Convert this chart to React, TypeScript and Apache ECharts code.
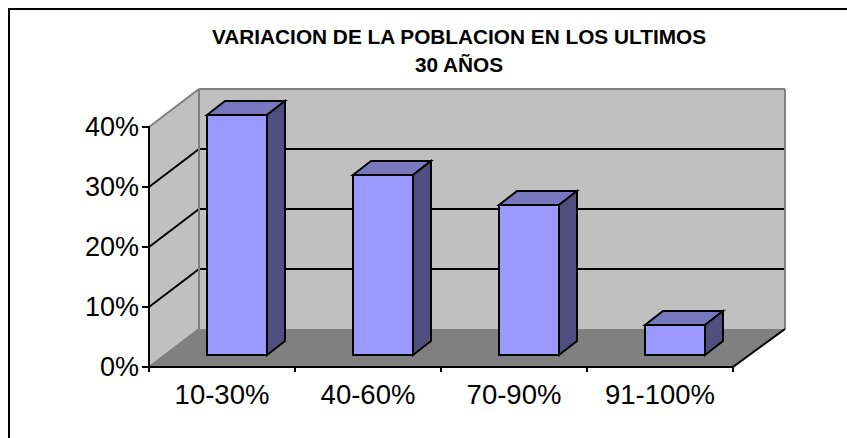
import React, { useEffect, useRef } from "react";
import * as echarts from "echarts";

const titleLines = ["VARIACION DE LA POBLACION EN LOS ULTIMOS", "30 AÑOS"];
const categories = ["10-30%", "40-60%", "70-90%", "91-100%"];
const values = [40, 30, 25, 5];
const yTicks = [0, 10, 20, 30, 40];

const GL = 149, GT = 127, GW = 584, GH = 240;
const WALL_DX = 50, WALL_DX_R = 52, WALL_DY = -38;
const BAR_HALF = 30, BAR_FX = 15, BAR_FY = -12, BAR_DX = 18, BAR_DY = -14;

const poly = (points: number[][], fill: string, stroke?: string, lineWidth = 2) => ({
  type: "polygon",
  shape: { points },
  style: { fill, stroke: stroke ?? "none", lineWidth: stroke ? lineWidth : 0 },
});
const seg = (x1: number, y1: number, x2: number, y2: number, stroke: string, lineWidth = 2) => ({
  type: "line",
  shape: { x1, y1, x2, y2 },
  style: { stroke, lineWidth },
});

export default function App() {
  const ref = useRef<HTMLDivElement>(null);
  useEffect(() => {
    const chart = echarts.init(ref.current!, undefined, { renderer: "svg" });
    chart.setOption({
      animation: false,
      backgroundColor: "#ffffff",
      title: {
        text: titleLines.join("\n"),
        left: 454,
        top: 17,
        textAlign: "center",
        textStyle: { fontFamily: "Liberation Sans", fontSize: 20.8, fontWeight: "bold", color: "#000", lineHeight: 28 },
      },
      grid: { left: GL, top: GT, width: GW, height: GH, containLabel: false },
      xAxis: {
        type: "category",
        data: categories,
        z: 5,
        axisLine: { lineStyle: { color: "#000", width: 2 } },
        axisTick: { show: true, length: 5, alignWithLabel: false, lineStyle: { color: "#000", width: 2 } },
        axisLabel: { fontFamily: "Liberation Sans", fontSize: 27.5, color: "#000", margin: 13 },
      },
      yAxis: {
        type: "value",
        min: 0,
        max: 40,
        interval: 10,
        z: 5,
        axisLine: { show: true, lineStyle: { color: "#000", width: 2 } },
        axisTick: { show: true, length: 7, lineStyle: { color: "#000", width: 2 } },
        axisLabel: { fontFamily: "Liberation Sans", fontSize: 27, color: "#000", margin: 10, formatter: "{value}%" },
        splitLine: { show: false },
      },
      series: [
        {
          type: "custom",
          z: 1,
          silent: true,
          data: [0],
          renderItem: (_p: any, api: any) => {
            const y0 = api.coord([0, 0])[1];
            const yTop = api.coord([0, 40])[1];
            const x0 = GL, x1 = GL + GW;
            const d = WALL_DX, dr = WALL_DX_R, e = WALL_DY;
            return {
              type: "group",
              children: [
                poly([[x0 + d, yTop + e], [x1 + dr, yTop + e], [x1 + dr, y0 + e], [x0 + d, y0 + e]], "#c0c0c0"),
                poly([[x0, yTop], [x0 + d, yTop + e], [x0 + d, y0 + e], [x0, y0]], "#c0c0c0"),
                poly([[x0, y0], [x0 + d, y0 + e], [x1 + dr, y0 + e], [x1, y0]], "#808080"),
              ],
            };
          },
        },
        {
          type: "custom",
          z: 2,
          silent: true,
          data: yTicks.slice(1, -1),
          encode: { y: 0 },
          renderItem: (_p: any, api: any) => {
            const y = api.coord([0, api.value(0)])[1];
            const x1 = GL + GW;
            return {
              type: "group",
              children: [
                seg(GL, y, GL + WALL_DX, y + WALL_DY, "#000"),
                seg(GL + WALL_DX, y + WALL_DY, x1 + WALL_DX_R, y + WALL_DY, "#000"),
              ],
            };
          },
        },
        {
          type: "custom",
          z: 3,
          silent: true,
          data: [0],
          renderItem: (_p: any, api: any) => {
            const y0 = api.coord([0, 0])[1];
            const yTop = api.coord([0, 40])[1];
            const x1 = GL + GW;
            const d = WALL_DX, dr = WALL_DX_R, e = WALL_DY;
            return {
              type: "group",
              children: [
                seg(GL, yTop, GL + d, yTop + e, "#808080"),
                seg(GL + d, yTop + e, x1 + dr, yTop + e, "#808080"),
                seg(GL + d, yTop + e, GL + d, y0 + e, "#808080"),
                seg(x1 + dr, yTop + e, x1 + dr, y0 + e, "#808080"),
                seg(GL, y0, GL + d, y0 + e, "#808080"),
                seg(x1, y0, x1 + dr, y0 + e, "#000"),
              ],
            };
          },
        },
        {
          type: "custom",
          z: 4,
          silent: true,
          data: values.map((v, i) => [i, v]),
          encode: { x: 0, y: 1 },
          renderItem: (_p: any, api: any) => {
            const c = api.coord([api.value(0), api.value(1)]);
            const b = api.coord([api.value(0), 0]);
            const xl = c[0] - BAR_HALF + BAR_FX, xr = c[0] + BAR_HALF + BAR_FX;
            const yt = c[1] + BAR_FY, yb = b[1] + BAR_FY;
            const dx = BAR_DX, dy = BAR_DY;
            return {
              type: "group",
              children: [
                poly([[xl, yt], [xl + dx, yt + dy], [xr + dx, yt + dy], [xr, yt]], "#7878bf", "#000"),
                poly([[xr, yt], [xr + dx, yt + dy], [xr + dx, yb + dy], [xr, yb]], "#4f4f80", "#000"),
                poly([[xl, yt], [xr, yt], [xr, yb], [xl, yb]], "#9999ff", "#000"),
              ],
            };
          },
        },
      ],
      graphic: [
        {
          type: "polyline",
          shape: { points: [[9, 438], [9, 9], [847, 9]] },
          style: { fill: "none", stroke: "#000", lineWidth: 2 },
          z: 10,
          silent: true,
        },
      ],
    });
    return () => chart.dispose();
  }, []);
  return <div ref={ref} style={{ position: "fixed", left: 0, top: 0, width: 847, height: 438 }} />;
}
